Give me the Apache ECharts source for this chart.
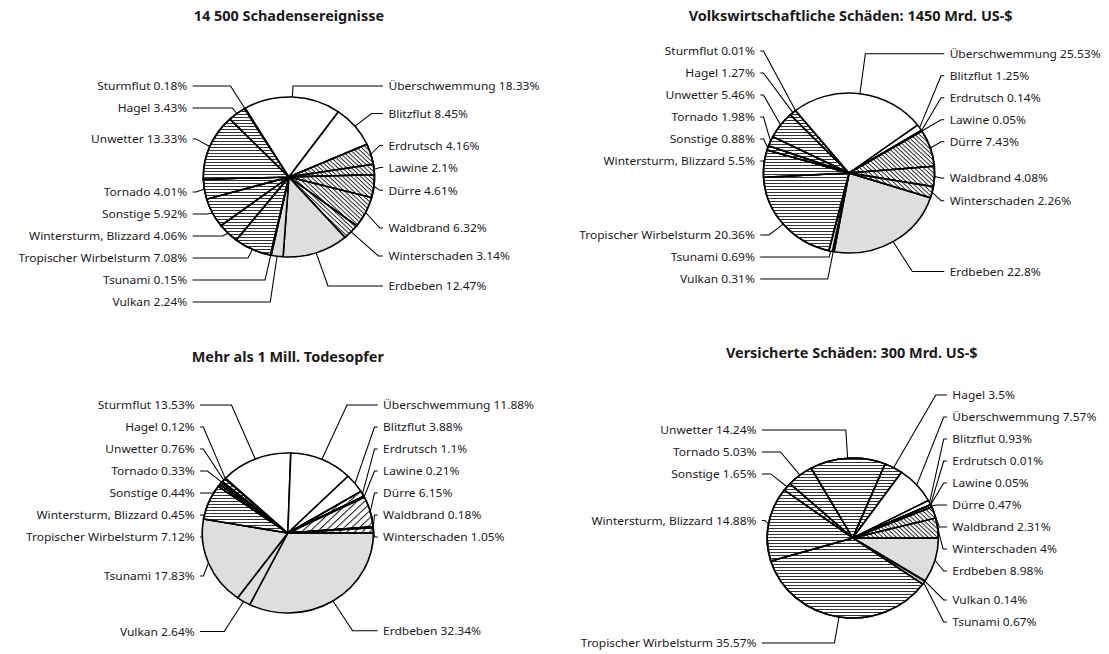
<!DOCTYPE html>
<html>
<head>
<meta charset="utf-8">
<script src="https://cdn.jsdelivr.net/npm/echarts@6/dist/echarts.min.js"></script>
<style>
  html, body { margin: 0; padding: 0; background: #fff; overflow: hidden; }
  /* the original graphic is slightly stretched horizontally (pies are ~7% wider than tall) */
  #main { width: 1037px; height: 654px; transform: scaleX(1.07); transform-origin: 0 0; }
</style>
</head>
<body>
<div id="main"></div>
<script>
// Kategorien im Uhrzeigersinn, beginnend mit Erdbeben
const categories = [
  'Erdbeben', 'Vulkan', 'Tsunami', 'Tropischer Wirbelsturm', 'Wintersturm, Blizzard',
  'Sonstige', 'Tornado', 'Unwetter', 'Hagel', 'Sturmflut', 'Überschwemmung',
  'Blitzflut', 'Erdrutsch', 'Lawine', 'Dürre', 'Waldbrand', 'Winterschaden'
]

// Anteile in Prozent (gleiche Reihenfolge wie categories)
const eventsShare   = [12.47, 2.24, 0.15, 7.08, 4.06, 5.92, 4.01, 13.33, 3.43, 0.18, 18.33, 8.45, 4.16, 2.1, 4.61, 6.32, 3.14]
const economicShare = [22.8, 0.31, 0.69, 20.36, 5.5, 0.88, 1.98, 5.46, 1.27, 0.01, 25.53, 1.25, 0.14, 0.05, 7.43, 4.08, 2.26]
const deathsShare   = [32.34, 2.64, 17.83, 7.12, 0.45, 0.44, 0.33, 0.76, 0.12, 13.53, 11.88, 3.88, 1.1, 0.21, 6.15, 0.18, 1.05]
const insuredShare  = [8.98, 0.14, 0.67, 35.57, 14.88, 1.65, 5.03, 14.24, 3.5, null, 7.57, 0.93, 0.01, 0.05, 0.47, 2.31, 4]

const pieTitles = [
  '14 500 Schadensereignisse',
  'Volkswirtschaftliche Schäden: 1450 Mrd. US-$',
  'Mehr als 1 Mill. Todesopfer',
  'Versicherte Schäden: 300 Mrd. US-$'
]

const FONT = '"Noto Sans", sans-serif'
const TEXT = '#1a1a1a'
const R = 80
const LABEL_RADIUS_UP = 100    // natürliche Höhe der Beschriftung (obere Hälfte)
const LABEL_RADIUS_DOWN = 115  // untere Hälfte
const LABEL_GAP = 22           // Zeilenabstand der Beschriftungen

// Füllart je Kategoriegruppe
const fillGroup = {
  'Überschwemmung': 'white', 'Blitzflut': 'white', 'Sturmflut': 'white',
  'Erdrutsch': 'diag', 'Lawine': 'diag', 'Dürre': 'diag', 'Waldbrand': 'diag', 'Winterschaden': 'diag',
  'Erdbeben': 'gray', 'Vulkan': 'gray', 'Tsunami': 'gray',
  'Tropischer Wirbelsturm': 'horiz', 'Wintersturm, Blizzard': 'horiz', 'Sonstige': 'horiz',
  'Tornado': 'horiz', 'Unwetter': 'horiz', 'Hagel': 'horiz'
}

function itemStyleFor(name, sparseDiag) {
  const g = fillGroup[name]
  const base = { borderColor: '#000', borderWidth: 1.5 }
  if (g === 'white') return Object.assign(base, { color: '#fff' })
  if (g === 'gray') return Object.assign(base, { color: '#dedede' })
  if (g === 'horiz') {
    return Object.assign(base, {
      color: '#fff',
      decal: { symbol: 'rect', symbolSize: 1, dashArrayX: [1, 0], dashArrayY: [1, 2], rotation: 0, color: '#333' }
    })
  }
  // diagonal schraffiert: "\\\" dicht, in der Todesopfer-Grafik "///" weit
  return Object.assign(base, {
    color: '#fff',
    decal: sparseDiag
      ? { symbol: 'rect', symbolSize: 1, dashArrayX: [1, 0], dashArrayY: [1, 4], rotation: -Math.PI / 4, color: '#222' }
      : { symbol: 'rect', symbolSize: 1, dashArrayX: [1, 0], dashArrayY: [1, 2], rotation: Math.PI / 4, color: '#222' }
  })
}

function buildData(values, sparseDiag) {
  return categories
    .map((name, i) => ({ name: name, value: values[i], itemStyle: itemStyleFor(name, sparseDiag) }))
    .filter(d => d.value != null)
}

// Beschriftungen einer Seite von der Mitte weg auseinanderschieben
function spread(list, cy, minY, maxY) {
  const up = list.filter(p => p.ny < cy).sort((a, b) => b.ny - a.ny)
  const down = list.filter(p => p.ny >= cy).sort((a, b) => a.ny - b.ny)
  let prev = Infinity
  up.forEach(p => { p.y = Math.min(p.ny, prev - LABEL_GAP); prev = p.y })
  prev = up.length ? up[0].y : -Infinity
  down.forEach(p => { p.y = Math.max(p.ny, prev + LABEL_GAP); prev = p.y })
  const all = list.slice().sort((a, b) => a.y - b.y)
  let lim = minY
  all.forEach(p => { if (p.y < lim) p.y = lim; lim = p.y + LABEL_GAP })
  lim = maxY
  for (let i = all.length - 1; i >= 0; i--) {
    if (all[i].y > lim) all[i].y = lim
    lim = all[i].y - LABEL_GAP
  }
}

// Seite und Höhe jeder Beschriftung aus den Anteilen ableiten
function labelPlan(values, startAngle, cy, bounds) {
  const vals = values.filter(v => v != null)
  const sum = vals.reduce((s, v) => s + v, 0)
  let cum = 0
  const plan = vals.map(v => {
    const a = -startAngle * Math.PI / 180 + (cum + v / 2) / sum * Math.PI * 2
    cum += v
    const s = Math.sin(a)
    return { left: Math.cos(a) < 0, ny: cy + (s < 0 ? LABEL_RADIUS_UP : LABEL_RADIUS_DOWN) * s }
  })
  spread(plan.filter(p => p.left), cy, bounds[0], bounds[1])
  spread(plan.filter(p => !p.left), cy, bounds[0], bounds[1])
  return plan
}

// Beschriftungen in zwei Spalten links/rechts der Torte ausrichten
function columnLayout(cx, cy, colL, colR, plan) {
  return function (params) {
    const pts = params.labelLinePoints
    const p = plan[params.dataIndex]
    if (!pts || !p) return {}
    const p0 = pts[0]
    const y = p.y
    const sgn = p.left ? -1 : 1
    const endX = cx + sgn * (p.left ? colL : colR)
    const limitX = endX - sgn * 3
    const dx = p0[0] - cx, dy = p0[1] - cy
    const len = Math.sqrt(dx * dx + dy * dy) || 1
    const ux = dx / len, uy = dy / len
    const t = Math.abs(uy) > 1e-3 ? (y - p0[1]) / uy : -1
    let x1 = t >= 4 ? p0[0] + ux * t : p0[0] + sgn * 5
    if ((x1 - limitX) * sgn > 0) x1 = limitX
    return {
      x: endX + sgn * 5,
      y: y,
      align: p.left ? 'right' : 'left',
      verticalAlign: 'middle',
      labelLinePoints: [[p0[0], p0[1]], [x1, y], [endX, y]]
    }
  }
}

function pieSeries(values, center, startAngle, cols, bounds, sparseDiag) {
  const plan = labelPlan(values, startAngle, center[1], bounds)
  return {
    type: 'pie',
    center: center,
    radius: R,
    startAngle: startAngle,
    clockwise: true,
    data: buildData(values, sparseDiag),
    label: {
      show: true,
      position: 'outside',
      formatter: '{b} {c}%',
      fontFamily: FONT,
      fontSize: 11.2,
      color: TEXT,
      overflow: 'none'
    },
    labelLine: {
      show: true,
      length: 10,
      length2: 8,
      lineStyle: { color: '#000', width: 1 }
    },
    labelLayout: columnLayout(center[0], center[1], cols[0], cols[1], plan),
    emphasis: { disabled: true }
  }
}

const chart = echarts.init(document.getElementById('main'), null, { renderer: 'svg' })

const option = {
  animation: false,
  backgroundColor: '#fff',
  title: [
    { text: pieTitles[0], left: 270, top: 9 },
    { text: pieTitles[1], left: 795, top: 9 },
    { text: pieTitles[2], left: 269, top: 350 },
    { text: pieTitles[3], left: 796, top: 346 }
  ].map(t => Object.assign(t, {
    textAlign: 'center',
    padding: 0,
    textStyle: { fontFamily: FONT, fontSize: 13.5, fontWeight: 'bold', color: TEXT }
  })),
  series: [
    pieSeries(eventsShare,   [270, 177],   -49, [90, 88], [86, 302], false),
    pieSeries(economicShare, [793.5, 173], -18, [83, 89], [36, 279], false),
    pieSeries(deathsShare,   [269, 533],     0, [82, 84], [405, 643], true),
    pieSeries(insuredShare,  [797, 538],     0, [85, 88], [395, 643], false)
  ]
}

chart.setOption(option)
</script>
</body>
</html>
